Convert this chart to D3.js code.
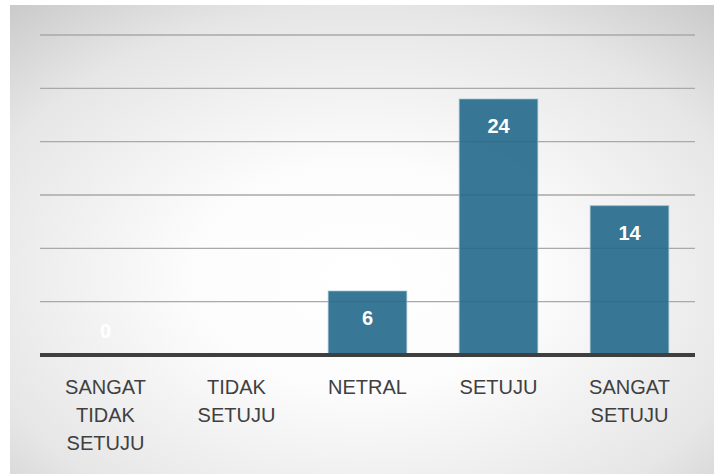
<!DOCTYPE html>
<html>
<head>
<meta charset="utf-8">
<script src="https://cdn.jsdelivr.net/npm/d3@7"></script>
<style>
  html, body { margin: 0; padding: 0; background: #fff; }
  svg { display: block; }
</style>
</head>
<body>
<svg id="chart" width="715" height="474"></svg>
<script>
// Survey response counts per answer option
const categories = [["SANGAT", "TIDAK", "SETUJU"], ["TIDAK", "SETUJU"], ["NETRAL"], ["SETUJU"], ["SANGAT", "SETUJU"]];
const values = [0, null, 6, 24, 14];
const yTicks = [0, 5, 10, 15, 20, 25, 30];

const svg = d3.select("#chart");
const W = 715, H = 474;
const margin = { left: 40, right: 20, top: 35, bottom: 119 };

// Panel background with soft radial shading
const defs = svg.append("defs");
const grad = defs.append("radialGradient")
  .attr("id", "bg")
  .attr("cx", "50%").attr("cy", "58%").attr("r", "82%");
grad.append("stop").attr("offset", "0%").attr("stop-color", "#ffffff");
grad.append("stop").attr("offset", "30%").attr("stop-color", "#fcfcfc");
grad.append("stop").attr("offset", "70%").attr("stop-color", "#e6e6e6");
grad.append("stop").attr("offset", "100%").attr("stop-color", "#c2c2c2");

svg.append("rect")
  .attr("x", 10).attr("y", 5)
  .attr("width", W - 11).attr("height", H - 5)
  .attr("fill", "url(#bg)");

const keys = categories.map((c, i) => i);
const x = d3.scaleBand()
  .domain(keys)
  .range([margin.left, W - margin.right])
  .paddingInner(0.4)
  .paddingOuter(0.2);

const y = d3.scaleLinear()
  .domain([0, 30])
  .range([H - margin.bottom, margin.top]);

// Horizontal gridlines
const grid = svg.append("g");
grid.selectAll("line.g")
  .data(yTicks.filter(t => t > 0))
  .join("line")
  .attr("class", "g")
  .attr("x1", margin.left).attr("x2", W - margin.right)
  .attr("y1", d => y(d)).attr("y2", d => y(d))
  .attr("stroke", "#a9a9a9")
  .attr("stroke-width", 1.3);

// Bars
const barData = values.map((v, i) => ({ i, v })).filter(d => d.v !== null && d.v > 0);
svg.append("g").selectAll("rect")
  .data(barData)
  .join("rect")
  .attr("x", d => x(d.i))
  .attr("y", d => y(d.v))
  .attr("width", x.bandwidth())
  .attr("height", d => y(0) - y(d.v))
  .attr("fill", "#22688a")
  .attr("fill-opacity", 0.9)
  .attr("stroke", "#9cc0d0")
  .attr("stroke-opacity", 0.7)
  .attr("stroke-width", 1);

// Baseline axis
svg.append("line")
  .attr("x1", margin.left).attr("x2", W - margin.right)
  .attr("y1", y(0)).attr("y2", y(0))
  .attr("stroke", "#3f3f3f")
  .attr("stroke-width", 4);

// Value labels
svg.append("g").selectAll("text")
  .data(values.map((v, i) => ({ i, v })).filter(d => d.v !== null))
  .join("text")
  .attr("x", d => x(d.i) + x.bandwidth() / 2)
  .attr("y", d => Math.min(y(d.v) + 34, y(0) - 17))
  .attr("text-anchor", "middle")
  .attr("font-family", "Liberation Sans, Arial, sans-serif")
  .attr("font-weight", "bold")
  .attr("font-size", 20)
  .attr("fill", "#ffffff")
  .text(d => d.v);

// Category labels
const catG = svg.append("g");
categories.forEach((lines, i) => {
  const t = catG.append("text")
    .attr("x", x(i) + x.bandwidth() / 2)
    .attr("y", 394)
    .attr("text-anchor", "middle")
    .attr("font-family", "Liberation Sans, Arial, sans-serif")
    .attr("font-size", 20)
    .attr("fill", "#404040");
  lines.forEach((ln, k) => {
    t.append("tspan")
      .attr("x", x(i) + x.bandwidth() / 2)
      .attr("dy", k === 0 ? 0 : 28)
      .text(ln);
  });
});
</script>
</body>
</html>
